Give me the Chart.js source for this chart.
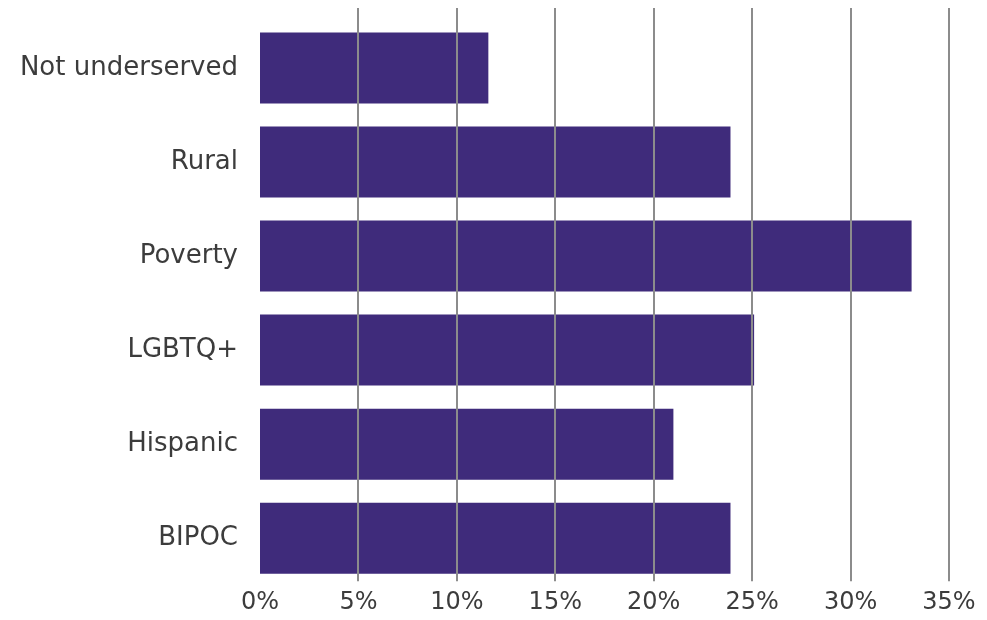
<!DOCTYPE html>
<html>
<head>
<meta charset="utf-8">
<script src="https://cdn.jsdelivr.net/npm/chart.js@4.4.1/dist/chart.umd.min.js"></script>
<style>
  html, body { margin: 0; padding: 0; background: #fff; }
  #wrap { width: 987px; height: 620px; }
</style>
</head>
<body>
<div id="wrap"><canvas id="barChart"></canvas></div>
<script>
const categories = ['Not underserved', 'Rural', 'Poverty', 'LGBTQ+', 'Hispanic', 'BIPOC'];
const shares = [11.6, 23.9, 33.1, 25.1, 21.0, 23.9];
const xTicks = [0, 5, 10, 15, 20, 25, 30, 35];

// vertical guide lines, painted over the bars and a bit above the plot area
const guideLines = {
    id: 'guideLines',
    afterDatasetsDraw(chart) {
        const { ctx, chartArea, scales } = chart;
        ctx.save();
        ctx.strokeStyle = '#8c8c8c';
        ctx.lineWidth = 2;
        xTicks.forEach(v => {
            if (v === 0) return;
            const x = Math.round(scales.x.getPixelForValue(v));
            ctx.beginPath();
            ctx.moveTo(x, chartArea.top - 13);
            ctx.lineTo(x, chartArea.bottom - 4);
            ctx.stroke();
        });
        ctx.restore();
    }
};

const ctx = document.getElementById('barChart').getContext('2d');
const barChart = new Chart(ctx, {
    type: 'bar',
    data: {
        labels: categories,
        datasets: [{
            label: 'Share',
            data: shares,
            backgroundColor: '#3f2b7b',
            borderWidth: 0,
            barPercentage: 0.755,
            categoryPercentage: 1
        }]
    },
    options: {
        indexAxis: 'y',
        responsive: true,
        maintainAspectRatio: false,
        animation: false,
        layout: { padding: { top: 21, right: 38, left: 0, bottom: 0 } },
        plugins: {
            legend: { display: false },
            tooltip: { enabled: false }
        },
        scales: {
            x: {
                min: 0,
                max: 35,
                afterBuildTicks(scale) {
                    scale.ticks = xTicks.map(v => ({ value: v }));
                },
                grid: { display: false, drawTicks: false },
                border: { display: false },
                ticks: {
                    callback: v => v + '%',
                    color: '#3c3c3c',
                    padding: 3,
                    maxRotation: 0,
                    font: { family: 'DejaVu Sans', size: 24 }
                }
            },
            y: {
                afterFit(scale) {
                    scale.width = 260;
                    scale.paddingTop = 0;
                    scale.paddingBottom = 0;
                },
                grid: { display: false, drawTicks: false },
                border: { display: false },
                ticks: {
                    color: '#3c3c3c',
                    padding: 22,
                    font: { family: 'DejaVu Sans', size: 26 }
                }
            }
        }
    },
    plugins: [guideLines]
});
</script>
</body>
</html>
